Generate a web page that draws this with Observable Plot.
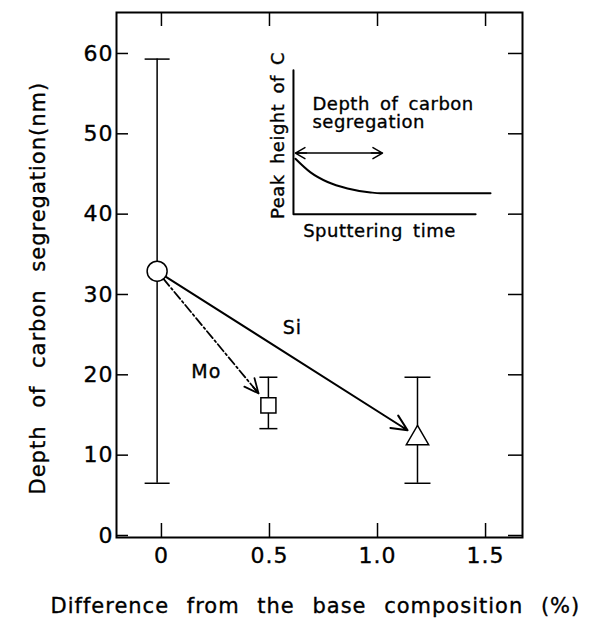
<!DOCTYPE html>
<html><head><meta charset="utf-8">
<script src="https://cdn.jsdelivr.net/npm/d3@7"></script>
<script src="https://cdn.jsdelivr.net/npm/@observablehq/plot@0.6"></script>
<style>
body{margin:0;background:#fff}
#chart svg{display:block}
#chart svg text {stroke:#000; stroke-width:0.35px; letter-spacing:1px}
</style>
</head><body><div id="chart"></div>
<script>
// ---- data ----
const markers = ["circle", "square", "triangle"];     // base, Mo, Si
const markerX = [-0.02, 0.495, 1.185];
const markerY = [32.9, 16.2, 12.1];
const errLow  = [6.5, 13.3, 6.5];
const errHigh = [59.3, 19.7, 19.7];

const yTicks = [0, 10, 20, 30, 40, 50, 60];
const xTicks = [0, 0.5, 1.0, 1.5];
const xTickLabels = ["0", "0.5", "1.0", "1.5"];
const xTitle = "Difference from the base composition (%)";
const yTitle = "Depth of carbon segregation(nm)";

const arrowNames = ["Si", "Mo"];
const arrowX1 = [-0.02, -0.02];
const arrowY1 = [32.9, 32.9];
const arrowX2 = [1.139, 0.449];
const arrowY2 = [13.1, 17.7];
const arrowLabelX = [0.606, 0.208];
const arrowLabelY = [25.8, 20.4];

// inset schematic, in the main chart's units
const insetAxisX = [0.611, 0.611, 1.454];
const insetAxisY = [57.9, 40.0, 40.0];
const insetCurveX = [0.620, 0.690, 0.769, 0.861, 0.968, 1.014, 1.523];
const insetCurveY = [46.9, 45.2, 44.0, 43.2, 42.7, 42.6, 42.6];
const insetArrowX = [0.620, 1.023];
const insetArrowY = [47.6, 47.6];
const insetTexts = ["Depth of carbon\nsegregation", "Sputtering time", "Peak height of C"];
const insetTextX = [0.699, 1.009, 0.542];
const insetTextY = [52.6, 37.9, 49.8];

// ---- styles ----
const markerR = {circle: 10, square: 8.5, triangle: 8.3};
const capHalf = {circle: 12.5, square: 9, triangle: 13};
const capSymbol = {draw(ctx, size) { const w = Math.sqrt(size / Math.PI); ctx.moveTo(-w, 0); ctx.lineTo(w, 0); }};

const W = 608, H = 621, mL = 116, mR = 86, mT = 12, mB = 84;
const pw = W - mL - mR, ph = H - mT - mB;
const idx = markers.map((_, i) => i);

const marks = [
  Plot.frame({strokeWidth: 2}),
  // inward ticks on all four sides
  Plot.tickY(yTicks, {y: d => d, insetRight: pw - 12, strokeWidth: 1.5}),
  Plot.tickY(yTicks, {y: d => d, insetLeft: pw - 14, strokeWidth: 1.5}),
  Plot.tickX(xTicks, {x: d => d, insetTop: ph - 14, strokeWidth: 1.5}),
  Plot.tickX(xTicks, {x: d => d, insetBottom: ph - 14, strokeWidth: 1.5}),
  Plot.axisY({ticks: yTicks, tickSize: 0, tickPadding: 3, label: null, fontSize: 22}),
  Plot.axisX({ticks: xTicks, tickFormat: d => xTickLabels[xTicks.indexOf(d)], tickSize: 0, tickPadding: 10, label: null, fontSize: 22}),
  Plot.text([xTitle], {frameAnchor: "bottom-left", textAnchor: "start", dx: -66, dy: 69, fontSize: 21, lineAnchor: "middle"}),
  Plot.text([yTitle], {frameAnchor: "bottom-left", textAnchor: "start", rotate: -90, dx: -78, dy: -43, fontSize: 21, lineAnchor: "middle"}),
  // error bars
  Plot.ruleX(idx, {x: i => markerX[i], y1: i => errLow[i], y2: i => errHigh[i], strokeWidth: 1.5}),
  ...markers.map((m, i) => Plot.dot([i], {x: j => markerX[j], y: j => errLow[j], symbol: capSymbol, r: capHalf[m], stroke: "black", strokeWidth: 1.5})),
  ...markers.map((m, i) => Plot.dot([i], {x: j => markerX[j], y: j => errHigh[j], symbol: capSymbol, r: capHalf[m], stroke: "black", strokeWidth: 1.5})),
  // arrows
  Plot.arrow([0], {x1: i => arrowX1[i], y1: i => arrowY1[i], x2: i => arrowX2[i], y2: i => arrowY2[i], insetStart: 10, headLength: 13, headAngle: 50, strokeWidth: 2}),
  Plot.arrow([1], {x1: i => arrowX1[i], y1: i => arrowY1[i], x2: i => arrowX2[i], y2: i => arrowY2[i], insetStart: 10, headLength: 0, strokeWidth: 1.8, strokeDasharray: "9,3,2,3"}),
  Plot.arrow([1], {x1: i => arrowX1[i], y1: i => arrowY1[i], x2: i => arrowX2[i], y2: i => arrowY2[i], insetStart: 150, headLength: 13, headAngle: 50, strokeWidth: 1.8}),
  Plot.text(idx.slice(0, 2), {x: i => arrowLabelX[i], y: i => arrowLabelY[i], text: i => arrowNames[i], fontSize: 19}),
  // markers
  ...markers.map((m, i) => Plot.dot([i], {x: j => markerX[j], y: j => markerY[j], symbol: m, r: markerR[m], fill: "white", stroke: "black", strokeWidth: 1.5})),
  // inset
  Plot.line(insetAxisX.map((_, i) => i), {x: i => insetAxisX[i], y: i => insetAxisY[i], strokeWidth: 2}),
  Plot.line(insetCurveX.map((_, i) => i), {x: i => insetCurveX[i], y: i => insetCurveY[i], curve: "monotone-x", strokeWidth: 2}),
  Plot.link([0], {x1: () => insetArrowX[0], y1: () => insetArrowY[0], x2: () => insetArrowX[1], y2: () => insetArrowY[1], strokeWidth: 1.5}),
  Plot.arrow([0], {x1: () => insetArrowX[1], y1: () => insetArrowY[1], x2: () => insetArrowX[0], y2: () => insetArrowY[0], insetStart: 76, headLength: 11, headAngle: 60, strokeWidth: 1.5}),
  Plot.arrow([0], {x1: () => insetArrowX[0], y1: () => insetArrowY[0], x2: () => insetArrowX[1], y2: () => insetArrowY[1], insetStart: 76, headLength: 11, headAngle: 60, strokeWidth: 1.5}),
  Plot.text([0], {x: i => insetTextX[i], y: i => insetTextY[i], text: i => insetTexts[i], textAnchor: "start", lineAnchor: "middle", lineHeight: 1.05, fontSize: 18}),
  Plot.text([1], {x: i => insetTextX[i], y: i => insetTextY[i], text: i => insetTexts[i], lineAnchor: "middle", fontSize: 18}),
  Plot.text([2], {x: i => insetTextX[i], y: i => insetTextY[i], text: i => insetTexts[i], rotate: -90, lineAnchor: "middle", fontSize: 18})
];

const chart = Plot.plot({
  width: W, height: H,
  marginLeft: mL, marginRight: mR, marginTop: mT, marginBottom: mB,
  x: {domain: [-0.208, 1.671]},
  y: {domain: [-0.25, 65.1]},
  style: {fontFamily: "DejaVu Sans", color: "black", background: "white", overflow: "visible"},
  marks
});
document.getElementById("chart").appendChild(chart);

// wide word gaps as in the reference typesetting
d3.select(chart).selectAll("text").each(function () {
  const t = this.textContent;
  if (t === xTitle || t === yTitle) d3.select(this).style("word-spacing", "10px");
  else if (insetTexts.some(s => s.replace("\n", "") === t)) d3.select(this).style("word-spacing", "4px").style("letter-spacing", "0.5px");
});
</script>
</body></html>
